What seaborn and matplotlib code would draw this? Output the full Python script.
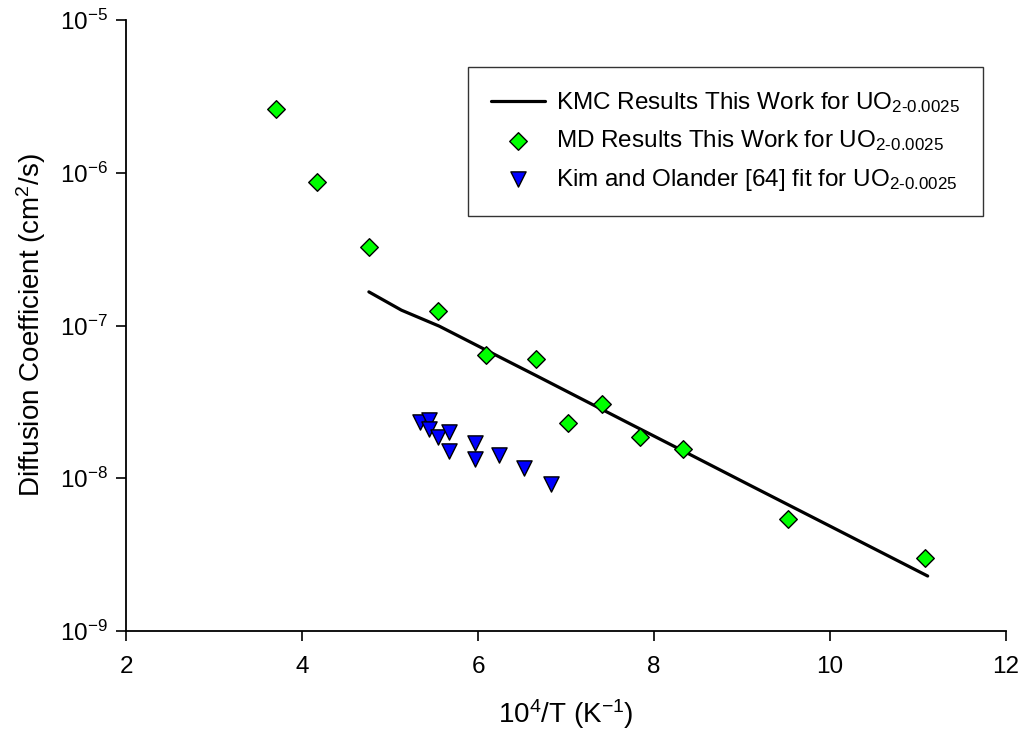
import matplotlib
matplotlib.use("Agg")
import matplotlib.pyplot as plt
import matplotlib.ticker as mticker
import seaborn as sns
import pandas as pd
import numpy as np

# ---- data ----
kmc_x = [4.76, 5.13, 5.56, 6.25, 6.67, 7.14, 7.69, 8.33, 9.09, 10.0, 11.11]
kmc_d = [1.66e-7, 1.26e-7, 9.9e-8, 6.2e-8, 4.67e-8, 3.39e-8, 2.33e-8, 1.51e-8, 9.0e-9, 4.86e-9, 2.29e-9]

md_x = [3.70, 4.17, 4.76, 5.55, 6.09, 6.66, 7.02, 7.41, 7.84, 8.33, 9.52, 11.08]
md_d = [2.61e-6, 8.7e-7, 3.27e-7, 1.24e-7, 6.41e-8, 6.0e-8, 2.30e-8, 3.06e-8, 1.86e-8, 1.56e-8, 5.4e-9, 3.0e-9]

kim_x = [5.34, 5.44, 5.44, 5.55, 5.67, 5.67, 5.97, 5.97, 6.24, 6.52, 6.83]
kim_d = [2.33e-8, 2.41e-8, 2.10e-8, 1.86e-8, 2.01e-8, 1.51e-8, 1.70e-8, 1.34e-8, 1.42e-8, 1.17e-8, 9.17e-9]

x_ticks = [2, 4, 6, 8, 10, 12]
y_ticks = [1e-9, 1e-8, 1e-7, 1e-6, 1e-5]

sub = r"UO$_{2\text{-}0.0025}$"
labels = [f"KMC Results This Work for {sub}",
          f"MD Results This Work for {sub}",
          f"Kim and Olander [64] fit for {sub}"]

sns.set_theme(style="ticks")
plt.rcParams["font.family"] = ["Liberation Sans", "DejaVu Sans"]
plt.rcParams["mathtext.fontset"] = "custom"
plt.rcParams["mathtext.rm"] = "Liberation Sans"
plt.rcParams["mathtext.it"] = "Liberation Sans:italic"
plt.rcParams["mathtext.bf"] = "Liberation Sans:bold"
plt.rcParams["axes.unicode_minus"] = False
for k in ["text.color", "axes.labelcolor", "xtick.color", "ytick.color", "axes.edgecolor"]:
    plt.rcParams[k] = "black"

FS = 17.5
LFS = 20

fig = plt.figure(figsize=(10.21, 7.38), dpi=100)
ax = fig.add_axes([126/1021, 1-631/738, (1006-126)/1021, (631-20)/738])

kmc = pd.DataFrame({"x": kmc_x, "d": kmc_d})
md = pd.DataFrame({"x": md_x, "d": md_d})
kim = pd.DataFrame({"x": kim_x, "d": kim_d})

sns.lineplot(data=kmc, x="x", y="d", ax=ax, color="black", linewidth=2.3,
             label=labels[0], zorder=2, sort=False)
sns.scatterplot(data=md, x="x", y="d", ax=ax, marker="D", s=80, color="#00ff00",
                edgecolor="black", linewidth=1.0, label=labels[1], zorder=3)
sns.scatterplot(data=kim, x="x", y="d", ax=ax, marker="v", s=120, color="#0000ff",
                edgecolor="black", linewidth=1.0, label=labels[2], zorder=3)

ax.set_yscale("log")
ax.set_xlim(2, 12)
ax.set_ylim(1e-9, 1e-5)
ax.set_xticks(x_ticks)
ax.set_yticks(y_ticks)
ax.yaxis.set_minor_locator(mticker.NullLocator())
ax.tick_params(axis="both", which="major", labelsize=FS, length=7, width=1.2,
               direction="out", color="black", labelcolor="black")
ax.tick_params(axis="x", pad=11)
ax.tick_params(axis="y", pad=6)
for s in ["top", "right"]:
    ax.spines[s].set_visible(False)
for s in ["left", "bottom"]:
    ax.spines[s].set_color("black")
    ax.spines[s].set_linewidth(1.3)

ax.set_xlabel(r"10$^4$/T (K$^{-1}$)", fontsize=LFS, labelpad=14, color="black")
ax.set_ylabel(r"Diffusion Coefficient (cm$^2$/s)", fontsize=LFS, labelpad=9, color="black")

leg = ax.legend(loc="upper left", bbox_to_anchor=(468/1021, 1-67/738),
                bbox_transform=fig.transFigure, fontsize=FS, frameon=True,
                fancybox=False, edgecolor="#333333", framealpha=1,
                handlelength=2.2, handletextpad=0.47, labelspacing=0.55,
                borderpad=0.95, borderaxespad=0)
leg.get_frame().set_linewidth(1.0)
for t in leg.get_texts():
    t.set_color("black")

fig.savefig("out.png", dpi=100)
